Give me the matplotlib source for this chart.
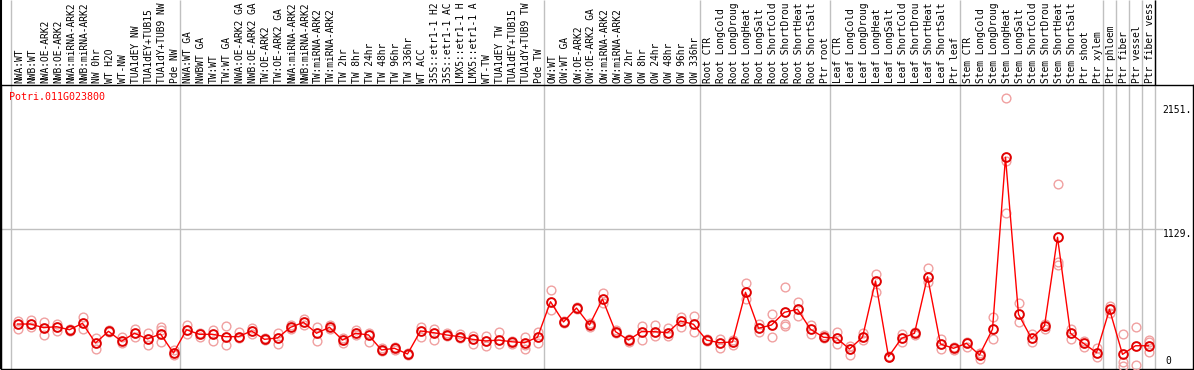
import matplotlib
matplotlib.use('Agg')
from matplotlib import pyplot as plt

W, H = 1194, 370

samples = [
    'NWA:WT', 'NWB:WT', 'NWA:OE-ARK2', 'NWB:OE-ARK2', 'NWA:miRNA-ARK2',
    'NWB:miRNA-ARK2', 'NW 0hr', 'WT H2O', 'WT-NW', 'TUA1dEY NW',
    'TUA1dEY+TUB15', 'TUA1dY+TUB9 NW', 'Pde NW',
    'NWA:WT GA', 'NWBWT GA', 'TW:WT', 'TW:WT GA', 'NWA:OE-ARK2 GA',
    'NWB:OE-ARK2 GA', 'TW:OE-ARK2', 'TW:OE-ARK2 GA', 'NWA:miRNA-ARK2',
    'NWB:miRNA-ARK2', 'TW:miRNA-ARK2', 'TW:miRNA-ARK2', 'TW 2hr', 'TW 8hr',
    'TW 24hr', 'TW 48hr', 'TW 96hr', 'TW 336hr', 'WT ACC', '35S::etr1-1 H2O',
    '35S::etr1-1 ACC', 'LMX5::etr1-1 H2O', 'LMX5::etr1-1 ACC', 'WT-TW',
    'TUA1dEY TW', 'TUA1dEY+TUB15', 'TUA1dY+TUB9 TW', 'Pde TW',
    'OW:WT', 'OW:WT GA', 'OW:OE-ARK2', 'OW:OE-ARK2 GA', 'OW:miRNA-ARK2',
    'OW:miRNA-ARK2', 'OW 2hr', 'OW 8hr', 'OW 24hr', 'OW 48hr', 'OW 96hr',
    'OW 336hr',
    'Root CTR', 'Root LongCold', 'Root LongDrought', 'Root LongHeat',
    'Root LongSalt', 'Root ShortCold', 'Root ShortDrought', 'Root ShortHeat',
    'Root ShortSalt', 'Ptr root',
    'Leaf CTR', 'Leaf LongCold', 'Leaf LongDrought', 'Leaf LongHeat',
    'Leaf LongSalt', 'Leaf ShortCold', 'Leaf ShortDrought', 'Leaf ShortHeat',
    'Leaf ShortSalt', 'Ptr leaf',
    'Stem CTR', 'Stem LongCold', 'Stem LongDrought', 'Stem LongHeat',
    'Stem LongSalt', 'Stem ShortCold', 'Stem ShortDrought', 'Stem ShortHeat',
    'Stem ShortSalt', 'Ptr shoot', 'Ptr xylem',
    'Ptr phloem', 'Ptr fiber', 'Ptr vessel', 'Ptr fiber vessel',
]

# group boundaries (sample index where a new block starts)
group_edges = [0, 13, 41, 53, 63, 73, 84, 85, 86, 87, 88]

means = [
    346, 346, 316, 324, 299, 352, 190, 286, 204, 270, 223, 264, 107,
    299, 261, 261, 242, 242, 289, 220, 231, 319, 360, 270, 319, 214, 270,
    256, 132, 146, 99, 289, 275, 256, 242, 220, 206, 214, 200, 192, 237,
    530, 363, 478, 338, 552, 283, 214, 283, 283, 275, 371, 344,
    214, 192, 198, 608, 311, 338, 443, 467, 303, 237,
    231, 140, 237, 701, 77, 228, 270, 736, 181, 146,
    187, 91, 303, 1721, 426, 228, 330, 1061, 270, 187, 110,
    467, 96, 167, 167,
]

replicates = [
    [373, 305], [379, 324], [365, 253], [346, 291], [305, 291], [406, 305],
    [228, 138], [297, 280], [237, 187], [303, 242], [270, 171],
    [324, 297, 200], [132, 91],
    [338, 264], [275, 242], [297, 209], [330, 171], [283, 228], [311, 264],
    [227, 214], [275, 181], [338, 303], [387, 338], [324, 209], [338, 303],
    [228, 187], [297, 256], [275, 200], [146, 124], [159, 132], [110, 88],
    [324, 237], [305, 214], [270, 247], [264, 228], [247, 181], [250, 165],
    [278, 179], [206, 181], [242, 173, 138], [283, 187],
    [627, 462], [373, 352], [489, 467], [352, 324], [599, 517], [297, 275],
    [220, 200], [330, 214], [338, 247], [311, 247], [401, 319], [412, 278],
    [220, 204], [220, 151], [214, 173], [682, 552], [346, 283], [429, 237],
    [649, 346, 332], [530, 415], [338, 264], [256, 228],
    [280, 181], [167, 93], [270, 214], [756, 613], [72, 80], [264, 200],
    [283, 256], [805, 695], [220, 138], [159, 132],
    [200, 159], [105, 60], [406, 220], [2207, 1693, 1259], [517, 365],
    [264, 200], [346, 303], [1500, 860, 833], [303, 220], [206, 159],
    [146, 77],
    [495, 434], [261, 35, 0], [324, 6], [214, 195, 118],
]

gene = 'Potri.011G023800'
ytick_vals = [2151, 1129, 0]
ytick_text = ['2151.', '1129.', '0']

mono = 'DejaVu Sans Mono'
grey = '#c0c0c0'
MAXCH = 14  # the column headers only show the first 14 characters

fig = plt.figure(figsize=(W / 100, H / 100), dpi=100)
ax = fig.add_axes([1 / W, 1 / H, 1192 / W, 284 / H])

# one slot is 13 px; first slot starts 10 px right of the frame
ax.set_xlim(-10 / 13, 1182 / 13)
ax.set_ylim(-3 / 0.1213, 281 / 0.1213)
ax.set_xticks([])
ax.set_yticks([])
for s in ax.spines.values():
    s.set_color('black')
    s.set_linewidth(1)

strip = 1 + 85 / 284
xt = ax.get_xaxis_transform()
ax.vlines(group_edges, 0, strip, transform=xt, colors=grey, lw=1,
          clip_on=False, zorder=1)
ax.vlines([88], 1, strip, transform=xt, colors='black', lw=1,
          clip_on=False, zorder=2)
ax.vlines([-10 / 13], 0, strip, transform=xt, colors='black', lw=1.5,
          clip_on=False, zorder=2)
ax.hlines(1129, -10 / 13, 88.6, colors=grey, lw=1, zorder=1)

xs = [i + 0.5 for i in range(len(samples))]

rx, ry = [], []
for x, reps in zip(xs, replicates):
    for r in reps:
        rx.append(x)
        ry.append(r)
ax.plot(rx, ry, ls='none', marker='o', ms=6.3, mfc='none', mec='#f0a0a0',
        mew=1.0, zorder=3)

ax.plot(xs, means, color='#ff0000', lw=1, zorder=4)
ax.plot(xs, means, ls='none', marker='o', ms=6.3, mfc='none', mec='#e00000',
        mew=1.4, zorder=5)

for x, name in zip(xs, samples):
    ax.text(x + 0.12, 1 + 2 / 284, name[:MAXCH], transform=xt, rotation=90,
            ha='center', va='bottom', fontsize=6.9, family=mono,
            clip_on=False)

ax.text(0.007, 0.959, gene, transform=ax.transAxes, color='#ff0000',
        fontsize=7.2, family=mono, ha='left', va='center')

for v, t in zip(ytick_vals, ytick_text):
    ax.text(88.6 if t != '0' else 88.8, v, t, fontsize=7.0, family=mono,
            ha='left', va='bottom' if v == 0 else 'top')

fig.savefig('out.png', dpi=100)
